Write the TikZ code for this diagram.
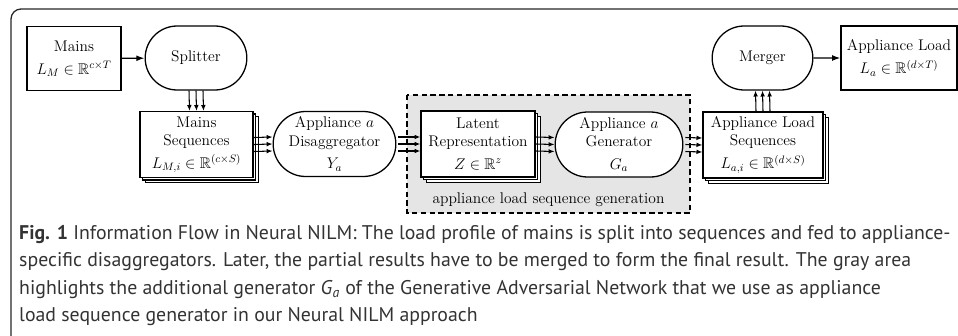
\RequirePackage{fix-cm}
\documentclass[tikz,border=0pt]{standalone}
\usepackage{amsmath,amssymb}
\usepackage{fontspec}
\newfontfamily\capfont{PT Sans}
\usetikzlibrary{shapes.misc,shadows,arrows.meta,calc,positioning}
\def\pxu{0.03cm}
\tikzset{
  box/.style={draw,line width=1.1pt,fill=white,align=center,inner sep=1pt,minimum height=64*\pxu},
  seqbox/.style={box,minimum height=66*\pxu,double copy shadow={shadow xshift=2.2pt,shadow yshift=-2.2pt}},
  blob/.style={draw,line width=1.1pt,fill=white,rounded rectangle,align=center,inner sep=1pt,minimum height=65*\pxu},
  flow/.style={-{Latex[length=5pt,width=4pt]},line width=0.9pt},
  feed/.style={-{Latex[length=7pt,width=5pt]},line width=1.1pt}
}
\begin{document}
\begin{tikzpicture}[x=\pxu,y=\pxu,font=\fontsize{13.2}{15.5}\selectfont]
\useasboundingbox (0,0) rectangle (958,-335);
% outer frame
\draw[line width=1.1pt,black!85,rounded corners=10*\pxu] (11,-400) -- (11,-9) -- (1000,-9);
% gray generation area
\draw[dash pattern=on 4.5pt off 3pt,line width=1pt,fill=black!10] (407,-95) rectangle (690,-213);
\node (genlbl) at (548.5,-200) {appliance load sequence generation};
% top row
\node[box,minimum width=94*\pxu] (mains) at (74,-58.5) {Mains\\[4pt]$L_M\in\mathbb{R}^{c\times T}$};
\node[blob,minimum width=104*\pxu,minimum height=64*\pxu] (split) at (196,-58) {Splitter};
\node[blob,minimum width=103*\pxu,minimum height=64*\pxu] (merge) at (762.5,-58) {Merger};
\node[box,minimum width=116*\pxu] (load) at (899,-58) {Appliance Load\\[4pt]$L_a\in\mathbb{R}^{(d\times T)}$};
% bottom row
\node[seqbox,minimum width=113*\pxu] (mseq) at (196.5,-144.5) {Mains\\Sequences\\[4pt]$L_{M,i}\in\mathbb{R}^{(c\times S)}$};
\node[blob,minimum width=125*\pxu] (disag) at (334.5,-144) {Appliance $a$\\Disaggregator\\[4pt]$Y_a$};
\node[seqbox,minimum width=114*\pxu] (latent) at (478,-144) {Latent\\Representation\\[4pt]$Z\in\mathbb{R}^z$};
\node[blob,minimum width=130*\pxu] (gen) at (619,-144.5) {Appliance $a$\\Generator\\[4pt]$G_a$};
\node[seqbox,minimum width=120*\pxu] (aseq) at (763,-145) {Appliance Load\\Sequences\\[4pt]$L_{a,i}\in\mathbb{R}^{(d\times S)}$};
% connectors
\draw[feed] (mains) -- (split);
\draw[feed] (merge) -- (load);
\foreach \d in {-7,0,7}{
  \draw[flow] ([xshift=\d*\pxu]split.south) -- ([xshift=\d*\pxu]mseq.north);
  \draw[flow] ([xshift=\d*\pxu]aseq.north) -- ([xshift=\d*\pxu]merge.south);
  \draw[flow] ([yshift=\d*\pxu]mseq.east) -- ([yshift=\d*\pxu]disag.west);
  \draw[flow] ([yshift=\d*\pxu,xshift=2*\pxu]disag.east) -- ([yshift=\d*\pxu]latent.west);
  \draw[flow] ([yshift=\d*\pxu]latent.east) -- ([yshift=\d*\pxu]gen.west);
  \draw[flow] ([yshift=\d*\pxu,xshift=2*\pxu]gen.east) -- ([yshift=\d*\pxu]aseq.west);
}
% caption
\node[anchor=north west,inner sep=0pt,align=left,text=black!80,
  font=\capfont\fontsize{16.9}{23.5}\selectfont] (cap) at (19,-225)
  {\textbf{Fig. 1} Information Flow in Neural NILM: The load profile of mains is split into sequences and fed to appliance-\\
  specific disaggregators. Later, the partial results have to be merged to form the final result. The gray area\\
  highlights the additional generator \textit{G}\textsubscript{\textit{a}} of the Generative Adversarial Network that we use as appliance\\
  load sequence generator in our Neural NILM approach};
\end{tikzpicture}
\end{document}
